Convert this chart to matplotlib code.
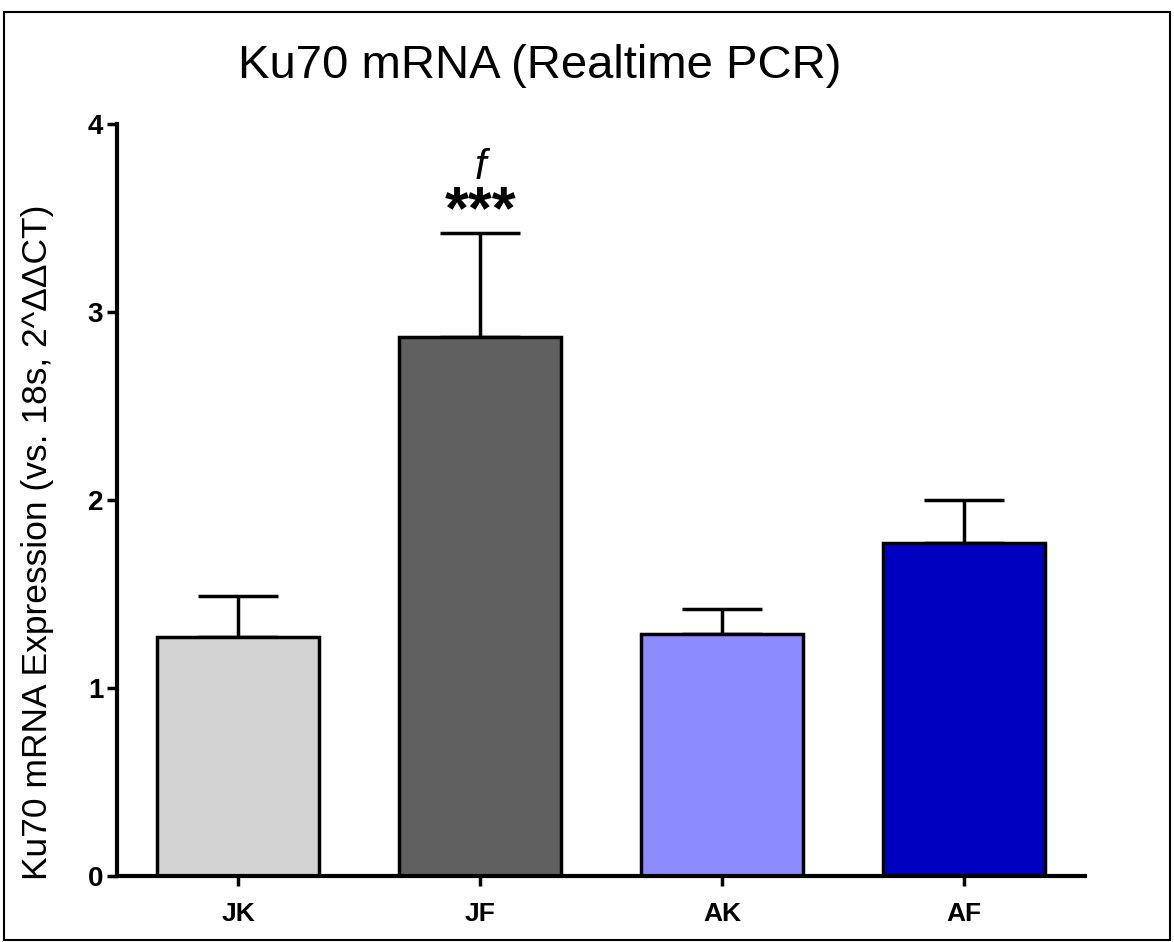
import matplotlib
matplotlib.use("Agg")
import matplotlib.pyplot as plt
from matplotlib.patches import Rectangle

# data
groups = ["JK", "JF", "AK", "AF"]
means = [1.27, 2.87, 1.29, 1.77]
errs = [0.22, 0.55, 0.13, 0.23]
colors = ["#d3d3d3", "#606060", "#8c8cff", "#0000c0"]

plt.rcParams["font.family"] = ["Liberation Sans", "DejaVu Sans"]

fig = plt.figure(figsize=(11.74, 9.42), dpi=100)
ax = fig.add_axes([0.0997, 0.070, 0.8248, 0.798])

x = range(len(groups))
ax.bar(x, means, width=0.67, color=colors, edgecolor="black", linewidth=2.5, zorder=2)
ax.errorbar(x, means, yerr=[[0] * len(errs), errs], fmt="none", ecolor="black",
            elinewidth=2.5, capsize=29, capthick=2.5, zorder=1)

ax.set_xlim(-0.5, 3.5)
ax.set_ylim(0, 4)
ax.set_yticks([0, 1, 2, 3, 4])
ax.set_xticks(list(x))
ax.set_xticklabels(groups, fontweight="bold", fontsize=19)
for lab in ax.get_yticklabels():
    lab.set_fontweight("bold")
    lab.set_fontsize(20)
ax.tick_params(axis="both", width=2.5, length=7, direction="out")
ax.tick_params(axis="x", pad=12)
ax.tick_params(axis="y", pad=3)

for s in ["top", "right"]:
    ax.spines[s].set_visible(False)
for s in ["left", "bottom"]:
    ax.spines[s].set_linewidth(3)

ax.set_ylabel("Ku70 mRNA Expression (vs. 18s, 2^\u0394\u0394CT)", fontsize=25.5)
ax.yaxis.set_label_coords(-0.082, 0.444)
ax.yaxis.label.set_va("center")

# significance marks above JF
jf = groups.index("JF")
top = means[jf] + errs[jf]
ax.text(jf, top - 0.04, "***", ha="center", va="bottom", fontsize=44, fontweight="bold")
ax.text(jf, top + 0.24, "f", ha="center", va="bottom", fontsize=30, style="italic")

fig.text(0.46, 0.93, "Ku70 mRNA (Realtime PCR)", ha="center", va="center", fontsize=34)

# outer frame
fig.patches.append(Rectangle((0.003, 0.002), 0.994, 0.985, transform=fig.transFigure,
                             fill=False, edgecolor="black", linewidth=1.5))

fig.savefig("out.png", dpi=100)
